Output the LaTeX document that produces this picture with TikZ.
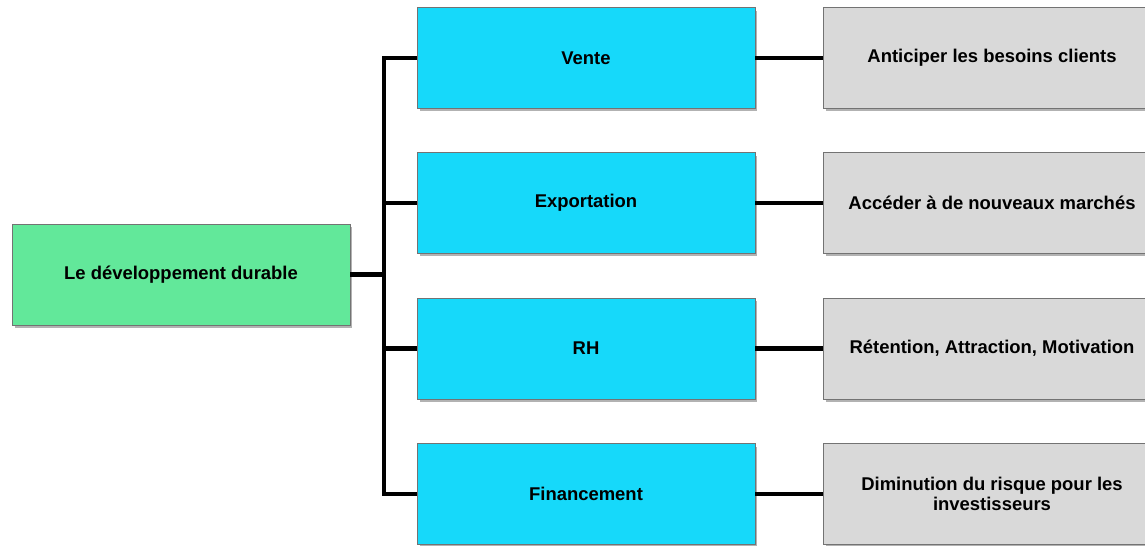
\documentclass[tikz,border=0pt]{standalone}
\usepackage{fontspec}
\setmainfont{Liberation Sans}
\usetikzlibrary{shadows}
\definecolor{rootgreen}{RGB}{98,232,154}
\definecolor{areablue}{RGB}{22,217,250}
\definecolor{goalgrey}{RGB}{217,217,217}

\begin{document}
\begin{tikzpicture}[x=0.02cm,y=-0.02cm,
  box/.style={draw=black!55,line width=0.5pt,minimum width=6.76cm,minimum height=2.02cm,
    inner sep=2pt,align=center,font=\fontsize{10.5}{11}\selectfont\bfseries,
    drop shadow={shadow xshift=0.05cm,shadow yshift=-0.06cm,fill=black,opacity=0.3}},
  rootbox/.style={box,fill=rootgreen},
  areabox/.style={box,fill=areablue},
  goalbox/.style={box,fill=goalgrey},
  link/.style={line width=0.09cm,line join=miter}]
  \useasboundingbox (0,0) rectangle (1145,545);

  \node[rootbox] (root) at (181,274.5) {Le développement durable};

  \node[areabox] (vente) at (586,58) {Vente};
  \node[areabox] (export) at (586,203) {Exportation};
  \node[areabox] (rh) at (586,348.5) {RH};
  \node[areabox] (finance) at (586,494) {Financement};

  \node[goalbox] (besoins) at (992,58) {Anticiper les besoins clients};
  \node[goalbox] (marches) at (992,203) {Accéder à de nouveaux marchés};
  \node[goalbox] (retention) at (992,348.5) {Rétention, Attraction, Motivation};
  \node[goalbox] (risque) at (992,494) {Diminution du risque pour les\\investisseurs};

  \coordinate (bus) at (384,274.5);
  \draw[link] (vente.west) -| (bus) |- (finance.west);
  \draw[link] (root.east) -- (bus);
  \draw[link] (export.west) -- (export.west -| bus);
  \draw[link] (rh.west) -- (rh.west -| bus);

  \draw[link] (vente) -- (besoins);
  \draw[link] (export) -- (marches);
  \draw[link] (rh) -- (retention);
  \draw[link] (finance) -- (risque);
\end{tikzpicture}
\end{document}
